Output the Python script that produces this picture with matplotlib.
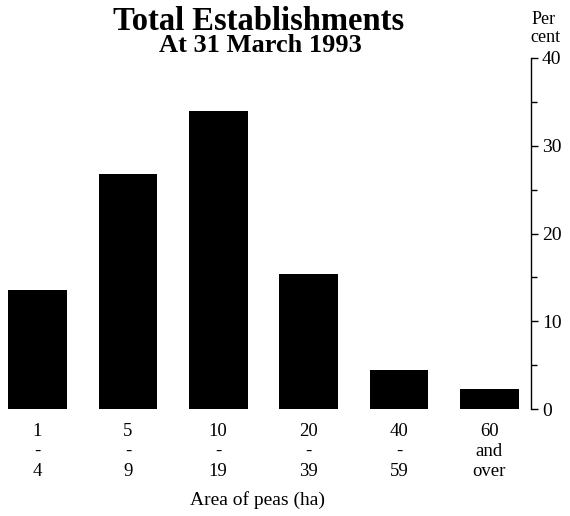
import matplotlib
matplotlib.use("Agg")
import matplotlib.pyplot as plt
from matplotlib.ticker import MultipleLocator

categories = ["1\n-\n4", "5\n-\n9", "10\n-\n19", "20\n-\n39", "40\n-\n59", "60\nand\nover"]
values = [13.6, 26.8, 34.0, 15.4, 4.5, 2.3]
yticks = [0, 10, 20, 30, 40]

plt.rcParams['font.family'] = ['Liberation Serif', 'DejaVu Serif']

fig = plt.figure(figsize=(5.70, 5.16), dpi=100)
top_px, bot_px = 58, 409
ax = fig.add_axes([0.0, 1 - bot_px/516, 531/570, (bot_px - top_px)/516])

x = list(range(len(categories)))
ax.bar(x, values, width=0.65, color='black')
ax.set_xlim(-0.415, 5.46)
ax.set_ylim(0, 40)

for s in ['top', 'left', 'bottom']:
    ax.spines[s].set_visible(False)
ax.spines['right'].set_linewidth(1.0)

ax.yaxis.tick_right()
ax.set_yticks(yticks)
ax.yaxis.set_minor_locator(MultipleLocator(5))
ax.tick_params(axis='y', which='major', direction='out', length=5, width=1.0, labelsize=14, pad=3)
ax.tick_params(axis='y', which='minor', direction='out', length=4, width=1.0)

ax.set_xticks(x)
ax.set_xticklabels(categories, fontsize=13.5, linespacing=1.22)
ax.tick_params(axis='x', length=0, pad=10)

ax.set_xlabel("Area of peas (ha)", fontsize=14, labelpad=7)
ax.xaxis.set_label_coords(258/531, -82/351)

fig.text(259/570, 1 - 21/516, "Total Establishments", ha='center', va='center',
         fontsize=23.5, fontweight='bold')
fig.text(260/570, 1 - 46/516, "At 31 March 1993", ha='center', va='center',
         fontsize=19, fontweight='bold')
fig.text(544/570, 1 - 20/516, "Per", ha='center', va='center', fontsize=13)
fig.text(545/570, 1 - 38/516, "cent", ha='center', va='center', fontsize=13)

fig.savefig("out.png", dpi=100)
